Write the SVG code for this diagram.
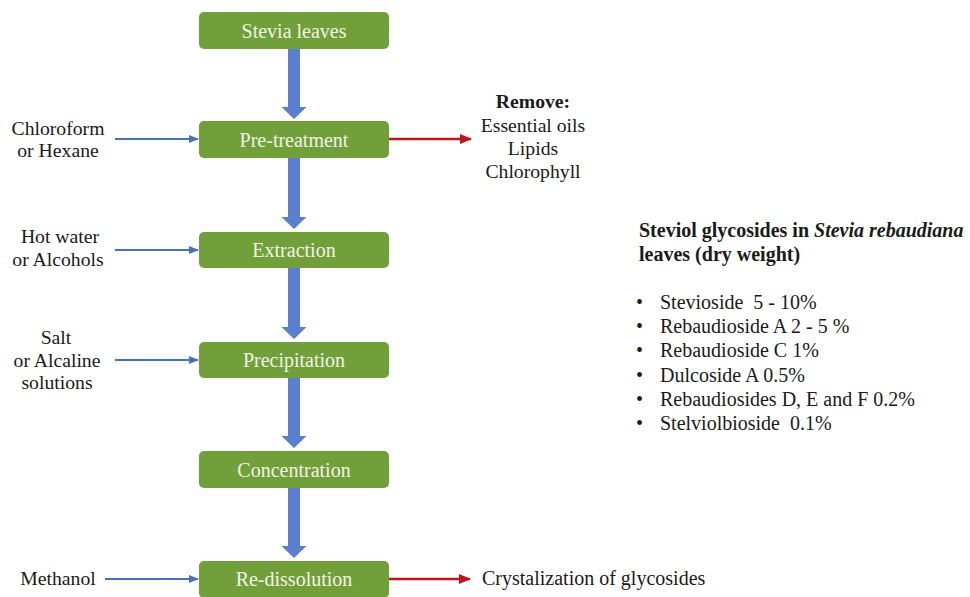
<svg xmlns="http://www.w3.org/2000/svg" width="970" height="597" viewBox="0 0 970 597">
<defs>
<style>
.box{fill:#71a03b;}
.big{fill:#5a7fcf;}
.in{stroke:#4a6fbf;stroke-width:2;fill:none;}
.out{stroke:#c0141c;stroke-width:2.5;fill:none;}
</style>
<marker id="ab" markerWidth="10" markerHeight="8" refX="9" refY="4" orient="auto" markerUnits="userSpaceOnUse">
<path d="M0,0 L10,4 L0,8 Z" fill="#4a6fbf"/>
</marker>
<marker id="ar" markerWidth="12" markerHeight="10" refX="11" refY="5" orient="auto" markerUnits="userSpaceOnUse">
<path d="M0,0 L12,5 L0,10 Z" fill="#c0141c"/>
</marker>
</defs>
<rect width="970" height="597" fill="#ffffff"/>

<g id="connectors">
<path class="big" d="M288,49 H300 V107 H306.5 L294,119 L281.5,107 H288 Z"/>
<path class="big" d="M288,158 H300 V217 H306.5 L294,229 L281.5,217 H288 Z"/>
<path class="big" d="M288,268 H300 V327 H306.5 L294,339 L281.5,327 H288 Z"/>
<path class="big" d="M288,378 H300 V436 H306.5 L294,448 L281.5,436 H288 Z"/>
<path class="big" d="M288,488 H300 V546 H306.5 L294,558 L281.5,546 H288 Z"/>
<line class="in" x1="115" y1="139" x2="198" y2="139" marker-end="url(#ab)"/>
<line class="in" x1="115" y1="250" x2="198" y2="250" marker-end="url(#ab)"/>
<line class="in" x1="115" y1="360" x2="198" y2="360" marker-end="url(#ab)"/>
<line class="in" x1="105" y1="579" x2="198" y2="579" marker-end="url(#ab)"/>
<line class="out" x1="389" y1="139" x2="471" y2="139" marker-end="url(#ar)"/>
<line class="out" x1="389" y1="579" x2="470" y2="579" marker-end="url(#ar)"/>
</g>

<g id="nodes" font-family="Liberation Serif" font-size="20" fill="#f1f3e4" text-anchor="middle">
<g id="n1"><rect class="box" x="199" y="12" width="190" height="37" rx="5"/><text font-family="Liberation Serif" x="294" y="37.5">Stevia leaves</text></g>
<g id="n2"><rect class="box" x="199" y="121" width="190" height="37" rx="5"/><text font-family="Liberation Serif" x="294" y="146.5">Pre-treatment</text></g>
<g id="n3"><rect class="box" x="199" y="232" width="190" height="36" rx="5"/><text font-family="Liberation Serif" x="294" y="257">Extraction</text></g>
<g id="n4"><rect class="box" x="199" y="342" width="190" height="36" rx="5"/><text font-family="Liberation Serif" x="294" y="367">Precipitation</text></g>
<g id="n5"><rect class="box" x="199" y="451" width="190" height="37" rx="5"/><text font-family="Liberation Serif" x="294" y="476.5">Concentration</text></g>
<g id="n6"><rect class="box" x="199" y="561" width="190" height="37" rx="5"/><text font-family="Liberation Serif" x="294" y="586">Re-dissolution</text></g>
</g>

<g font-family="Liberation Serif" font-size="19.7" fill="#1a1a1a" text-anchor="middle">
<g id="in1"><text font-family="Liberation Serif" x="58" y="135">Chloroform</text><text font-family="Liberation Serif" x="58" y="157">or Hexane</text></g>
<g id="in2"><text font-family="Liberation Serif" x="60" y="243">Hot water</text><text font-family="Liberation Serif" x="58" y="266">or Alcohols</text></g>
<g id="in3"><text font-family="Liberation Serif" x="56" y="344">Salt</text><text font-family="Liberation Serif" x="57" y="367">or Alcaline</text><text font-family="Liberation Serif" x="57" y="389">solutions</text></g>
<g id="in4"><text font-family="Liberation Serif" x="58" y="585">Methanol</text></g>
<g id="out1"><text font-family="Liberation Serif" font-weight="bold" x="533" y="108">Remove:</text><text font-family="Liberation Serif" x="533" y="132">Essential oils</text><text font-family="Liberation Serif" x="533" y="155">Lipids</text><text font-family="Liberation Serif" x="533" y="178">Chlorophyll</text></g>
</g>

<g font-family="Liberation Serif" font-size="20" fill="#1a1a1a">
<g id="out2"><text font-family="Liberation Serif" x="482" y="585">Crystalization of glycosides</text></g>
<g id="info">
<text font-family="Liberation Serif" font-weight="bold" x="639" y="237">Steviol glycosides in <tspan font-style="italic">Stevia rebaudiana</tspan></text>
<text font-family="Liberation Serif" font-weight="bold" x="639" y="261">leaves (dry weight)</text>
<text font-family="Liberation Serif" x="636" y="309">•</text><text font-family="Liberation Serif" x="660" y="309" xml:space="preserve">Stevioside  5 - 10%</text>
<text font-family="Liberation Serif" x="636" y="333">•</text><text font-family="Liberation Serif" x="660" y="333">Rebaudioside A 2 - 5 %</text>
<text font-family="Liberation Serif" x="636" y="357">•</text><text font-family="Liberation Serif" x="660" y="357">Rebaudioside C 1%</text>
<text font-family="Liberation Serif" x="636" y="382">•</text><text font-family="Liberation Serif" x="660" y="382">Dulcoside A 0.5%</text>
<text font-family="Liberation Serif" x="636" y="406">•</text><text font-family="Liberation Serif" x="660" y="406">Rebaudiosides D, E and F 0.2%</text>
<text font-family="Liberation Serif" x="636" y="430">•</text><text font-family="Liberation Serif" x="660" y="430" xml:space="preserve">Stelviolbioside  0.1%</text>
</g>
</g>
</svg>
